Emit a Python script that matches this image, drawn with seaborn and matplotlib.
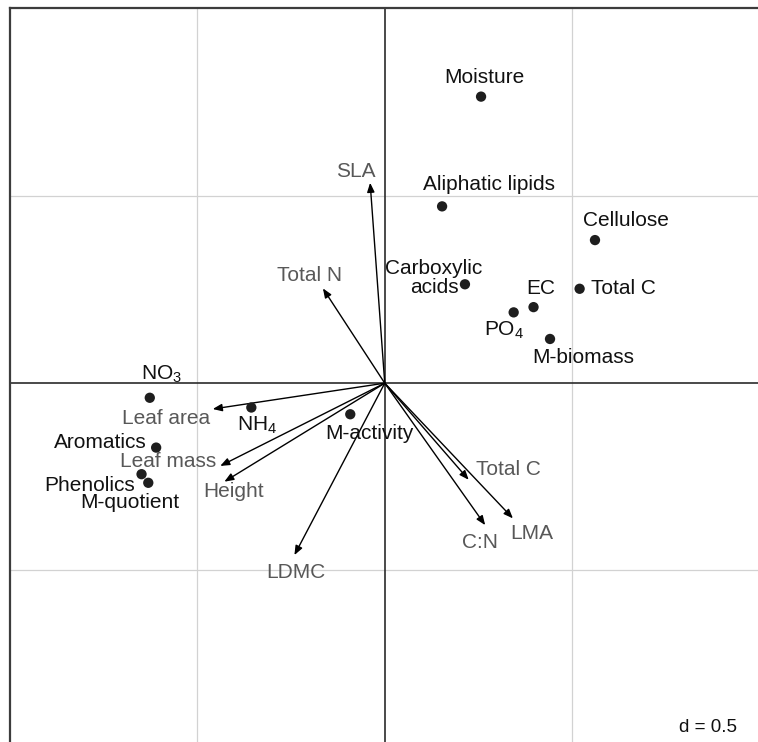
import matplotlib
matplotlib.use("Agg")
import matplotlib.pyplot as plt
import pandas as pd
import seaborn as sns

# Soil / litter variables (points)
soil_labels = ["Moisture", "Aliphatic lipids", "Cellulose", "Carboxylic\nacids",
               "Total C", "EC", r"PO$_\mathregular{4}$", "M-biomass",
               r"NO$_\mathregular{3}$", r"NH$_\mathregular{4}$", "M-activity",
               "Aromatics", "Phenolics", "M-quotient"]
soil_x = [0.257, 0.153, 0.561, 0.214, 0.520, 0.397, 0.344, 0.441,
          -0.627, -0.356, -0.092, -0.610, -0.649, -0.631]
soil_y = [0.765, 0.472, 0.382, 0.264, 0.252, 0.203, 0.189, 0.118,
          -0.039, -0.065, -0.083, -0.172, -0.243, -0.266]

# Plant traits (arrows from the origin)
trait_labels = ["SLA", "Total N", "Leaf area", "Leaf mass", "Height",
                "LDMC", "Total C", "C:N", "LMA"]
trait_x = [-0.039, -0.165, -0.459, -0.439, -0.428, -0.241, 0.224, 0.268, 0.342]
trait_y = [0.535, 0.253, -0.069, -0.221, -0.263, -0.459, -0.258, -0.379, -0.361]

grid_step = 0.5

# label offsets in pixels (dx right, dy up) and horizontal alignment
soil_offsets = {
    "Moisture": (3, 19, "center"),
    "Aliphatic lipids": (47, 22, "center"),
    "Cellulose": (31, 20, "center"),
    "Carboxylic\nacids": (-31, 6, "center"),
    "Total C": (11, 0, "left"),
    "EC": (7, 19, "center"),
    r"PO$_\mathregular{4}$": (-10, -18, "center"),
    "M-biomass": (33, -19, "center"),
    r"NO$_\mathregular{3}$": (12, 23, "center"),
    r"NH$_\mathregular{4}$": (6, -18, "center"),
    "M-activity": (19, -19, "center"),
    "Aromatics": (-9, 5, "right"),
    "Phenolics": (-7, -11, "right"),
    "M-quotient": (-18, -20, "center"),
}
trait_offsets = {
    "SLA": (-14, 11), "Total N": (-13, 13), "Leaf area": (-47, -9),
    "Leaf mass": (-52, 4), "Height": (9, -10), "LDMC": (1, -17),
    "Total C": (40, 10), "C:N": (-5, -17), "LMA": (19, -15),
}

sns.set_theme(style="white")
plt.rcParams["font.family"] = ["Liberation Sans", "DejaVu Sans"]
plt.rcParams["mathtext.fontset"] = "custom"
plt.rcParams["mathtext.rm"] = "Liberation Sans"
plt.rcParams["mathtext.it"] = "Liberation Sans"
plt.rcParams["mathtext.bf"] = "Liberation Sans:bold"

W, H = 758, 742
fig = plt.figure(figsize=(W / 100, H / 100), dpi=100)
ax = fig.add_axes([10 / W, 0, 1 - 10 / W, 1 - 8 / H])
ax.set_xlim(-1.0, 0.996)
ax.set_ylim(-0.958, 1.0016)

# background grid and axes through the origin
for v in (-grid_step, grid_step):
    ax.axvline(v, color="#d2d2d2", lw=0.9, zorder=0)
    ax.axhline(v, color="#d2d2d2", lw=0.9, zorder=0)
ax.axvline(0, color="#2b2b2b", lw=1.2, zorder=1)
ax.axhline(0, color="#2b2b2b", lw=1.2, zorder=1)

# trait arrows
for lab, x, y in zip(trait_labels, trait_x, trait_y):
    ax.annotate("", xy=(x, y), xytext=(0, 0),
                arrowprops=dict(arrowstyle="-|>,head_length=0.5,head_width=0.2",
                                color="black", lw=1.0, shrinkA=0, shrinkB=0,
                                mutation_scale=11), zorder=3)
    dx, dy = trait_offsets[lab]
    ax.annotate(lab, xy=(x, y), xytext=(dx, dy), textcoords="offset pixels",
                ha="center", va="center", fontsize=15, color="#585858",
                zorder=4)

# soil variable points
df = pd.DataFrame({"x": soil_x, "y": soil_y, "label": soil_labels})
sns.scatterplot(data=df, x="x", y="y", ax=ax, s=55, color="#1e1e1e",
                edgecolor="none", zorder=5, legend=False)
for lab, x, y in zip(soil_labels, soil_x, soil_y):
    dx, dy, ha = soil_offsets[lab]
    ax.annotate(lab, xy=(x, y), xytext=(dx, dy), textcoords="offset pixels",
                ha=ha, va="center", fontsize=15, color="#111111",
                multialignment="center", linespacing=1.0, zorder=6)

ax.text(0.94, -0.92, f"d = {grid_step}", ha="right", va="center",
        fontsize=13.5, color="#111111")

ax.set_xlabel("")
ax.set_ylabel("")
ax.set_xticks([])
ax.set_yticks([])
for side in ("right", "bottom"):
    ax.spines[side].set_visible(False)
for side in ("left", "top"):
    ax.spines[side].set_color("#3c3c3c")
    ax.spines[side].set_linewidth(1.6)

fig.savefig("out.png", dpi=100)
